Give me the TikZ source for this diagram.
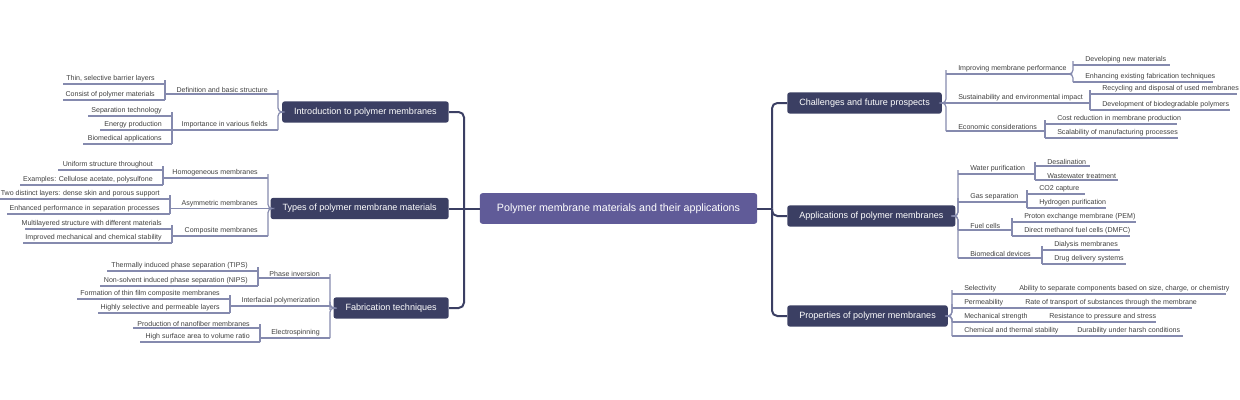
\documentclass[tikz,border=0pt]{standalone}
\usepackage{fontspec}
\setmainfont{Liberation Sans}
\definecolor{mainc}{HTML}{3B3F63}
\definecolor{centc}{HTML}{605B98}
\definecolor{linec}{HTML}{858AAE}
\definecolor{txtc}{HTML}{404040}
\tikzset{
 lbl/.style={font=\fontsize{5.3}{6}\selectfont,text=txtc,inner xsep=0pt,inner ysep=1.2pt},
 uline/.style={draw=linec,line width=0.9pt},
 conn/.style={draw=linec,line width=0.9pt,rounded corners=3pt},
 trunk/.style={draw=mainc,line width=1.5pt,rounded corners=4pt},
 topic/.style={fill=mainc,text=white,rounded corners=2pt,font=\fontsize{6.8}{8}\selectfont,minimum height=16pt,inner xsep=9pt},
}
\newcommand\lnode[5]{\coordinate (#1L) at (#2,#4); \coordinate (#1R) at (#3,#4);
 \draw[uline] (#1L) -- (#1R);
 \node[lbl,anchor=south east] (#1) at ({#3-10},#4) {#5};}
\newcommand\rnode[5]{\coordinate (#1L) at (#2,#4); \coordinate (#1R) at (#3,#4);
 \draw[uline] (#1L) -- (#1R);
 \node[lbl,anchor=south west] (#1) at ({#2+12},#4) {#5};}
\newcommand\lconn[3]{\coordinate (bar) at (#2,0); \draw[conn] (#3R) -- (#3R -| bar) |- (#1);}
\newcommand\rconn[3]{\coordinate (bar) at (#2,0); \draw[conn] (#3L) -- (#3L -| bar) |- (#1);}
\begin{document}
\begin{tikzpicture}[x=0.75pt,y=-0.75pt]
\useasboundingbox (0,0) rectangle (1240,400);
% center
\node[fill=centc,text=white,rounded corners=2pt,font=\fontsize{8}{10}\selectfont,minimum width=208pt,minimum height=23pt] (center) at (618.5,208.5) {Polymer membrane materials and their applications};
% main topics
\node[topic,anchor=east] (intro) at (449,112) {Introduction to polymer membranes};
\node[topic,anchor=east] (types) at (449,208.5) {Types of polymer membrane materials};
\node[topic,anchor=east] (fab) at (449,308) {Fabrication techniques};
\node[topic,anchor=west] (chal) at (787,103) {Challenges and future prospects};
\node[topic,anchor=west] (appl) at (787,216) {Applications of polymer membranes};
\node[topic,anchor=west] (prop) at (787,316) {Properties of polymer membranes};
\coordinate (tl) at (464,0); \coordinate (tr) at (772,0);
\draw[trunk] (center.west) -- (types.east);
\foreach \n in {intro,fab} \draw[trunk] (center.west -| tl) |- (\n.east);
\draw[trunk] (center.east) -- (center.east -| tr);
\foreach \n in {chal,appl,prop} \draw[trunk] (center.east -| tr) |- (\n.west);
% ---- Intro
\lnode{a1}{165}{278}{94}{Definition and basic structure}
\lnode{a2}{172}{278}{130}{Importance in various fields}
\lconn{intro.west}{278}{a1} \lconn{intro.west}{278}{a2}
\lnode{a11}{63}{165}{84}{Thin, selective barrier layers}
\lnode{a12}{63}{165}{100}{Consist of polymer materials}
\lconn{a1L}{165}{a11} \lconn{a1L}{165}{a12}
\lnode{a21}{88}{172}{116}{Separation technology}
\lnode{a22}{100}{172}{130}{Energy production}
\lnode{a23}{83}{172}{144}{Biomedical applications}
\lconn{a2L}{172}{a21} \lconn{a2L}{172}{a22} \lconn{a2L}{172}{a23}
% ---- Types
\lnode{b1}{163}{268}{178}{Homogeneous membranes}
\lnode{b2}{170}{268}{208.5}{Asymmetric membranes}
\lnode{b3}{172}{268}{236}{Composite membranes}
\lconn{types.west}{268}{b1} \draw[conn] (b2R) -- (types.west); \lconn{types.west}{268}{b3}
\lnode{b11}{58}{163}{170}{Uniform structure throughout}
\lnode{b12}{20}{163}{185}{Examples: Cellulose acetate, polysulfone}
\lconn{b1L}{163}{b11} \lconn{b1L}{163}{b12}
\lnode{b21}{0}{170}{199}{Two distinct layers: dense skin and porous support}
\lnode{b22}{7}{170}{214}{Enhanced performance in separation processes}
\lconn{b2L}{170}{b21} \lconn{b2L}{170}{b22}
\lnode{b31}{25}{172}{229}{Multilayered structure with different materials}
\lnode{b32}{23}{172}{243}{Improved mechanical and chemical stability}
\lconn{b3L}{172}{b31} \lconn{b3L}{172}{b32}
% ---- Fabrication
\lnode{c1}{258}{330}{278}{Phase inversion}
\lnode{c2}{230}{330}{306}{Interfacial polymerization}
\lnode{c3}{260}{330}{338}{Electrospinning}
\lconn{fab.west}{330}{c1} \lconn{fab.west}{330}{c2} \lconn{fab.west}{330}{c3}
\lnode{c11}{107}{258}{271}{Thermally induced phase separation (TIPS)}
\lnode{c12}{100}{258}{286}{Non-solvent induced phase separation (NIPS)}
\lconn{c1L}{258}{c11} \lconn{c1L}{258}{c12}
\lnode{c21}{77}{230}{299}{Formation of thin film composite membranes}
\lnode{c22}{98}{230}{313}{Highly selective and permeable layers}
\lconn{c2L}{230}{c21} \lconn{c2L}{230}{c22}
\lnode{c31}{133}{260}{328}{Production of nanofiber membranes}
\lnode{c32}{140}{260}{342}{High surface area to volume ratio}
\lconn{c3L}{260}{c31} \lconn{c3L}{260}{c32}
% ---- Challenges
\rnode{d1}{946}{1072}{74}{Improving membrane performance}
\rnode{d2}{946}{1090}{103}{Sustainability and environmental impact}
\rnode{d3}{946}{1045}{131}{Economic considerations}
\rconn{chal.east}{946}{d1} \draw[conn] (d2L) -- (chal.east); \rconn{chal.east}{946}{d3}
\rnode{d11}{1073}{1170}{65}{Developing new materials}
\rnode{d12}{1073}{1213}{82}{Enhancing existing fabrication techniques}
\rconn{d1R}{1073}{d11} \rconn{d1R}{1073}{d12}
\rnode{d21}{1090}{1237}{94}{Recycling and disposal of used membranes}
\rnode{d22}{1090}{1230}{110}{Development of biodegradable polymers}
\rconn{d2R}{1090}{d21} \rconn{d2R}{1090}{d22}
\rnode{d31}{1045}{1177}{124}{Cost reduction in membrane production}
\rnode{d32}{1045}{1178}{138}{Scalability of manufacturing processes}
\rconn{d3R}{1045}{d31} \rconn{d3R}{1045}{d32}
% ---- Applications
\rnode{e1}{958}{1035}{174}{Water purification}
\rnode{e2}{958}{1027}{202}{Gas separation}
\rnode{e3}{958}{1012}{230}{Fuel cells}
\rnode{e4}{958}{1042}{258}{Biomedical devices}
\rconn{appl.east}{958}{e1} \rconn{appl.east}{958}{e2} \rconn{appl.east}{958}{e3} \rconn{appl.east}{958}{e4}
\rnode{e11}{1035}{1090}{166}{Desalination}
\rnode{e12}{1035}{1118}{180}{Wastewater treatment}
\rconn{e1R}{1035}{e11} \rconn{e1R}{1035}{e12}
\rnode{e21}{1027}{1085}{194}{CO2 capture}
\rnode{e22}{1027}{1106}{208}{Hydrogen purification}
\rconn{e2R}{1027}{e21} \rconn{e2R}{1027}{e22}
\rnode{e31}{1012}{1136}{222}{Proton exchange membrane (PEM)}
\rnode{e32}{1012}{1130}{236}{Direct methanol fuel cells (DMFC)}
\rconn{e3R}{1012}{e31} \rconn{e3R}{1012}{e32}
\rnode{e41}{1042}{1120}{250}{Dialysis membranes}
\rnode{e42}{1042}{1126}{264}{Drug delivery systems}
\rconn{e4R}{1042}{e41} \rconn{e4R}{1042}{e42}
% ---- Properties
\rnode{f1}{952}{1010}{294}{Selectivity}
\rnode{f2}{952}{1015}{308}{Permeability}
\rnode{f3}{952}{1040}{322}{Mechanical strength}
\rnode{f4}{952}{1067}{336}{Chemical and thermal stability}
\rconn{prop.east}{952}{f1} \rconn{prop.east}{952}{f2} \rconn{prop.east}{952}{f3} \rconn{prop.east}{952}{f4}
\rnode{f11}{1007}{1226}{294}{Ability to separate components based on size, charge, or chemistry}
\rnode{f21}{1013}{1192}{308}{Rate of transport of substances through the membrane}
\rnode{f31}{1037}{1156}{322}{Resistance to pressure and stress}
\rnode{f41}{1065}{1183}{336}{Durability under harsh conditions}
\end{tikzpicture}
\end{document}
